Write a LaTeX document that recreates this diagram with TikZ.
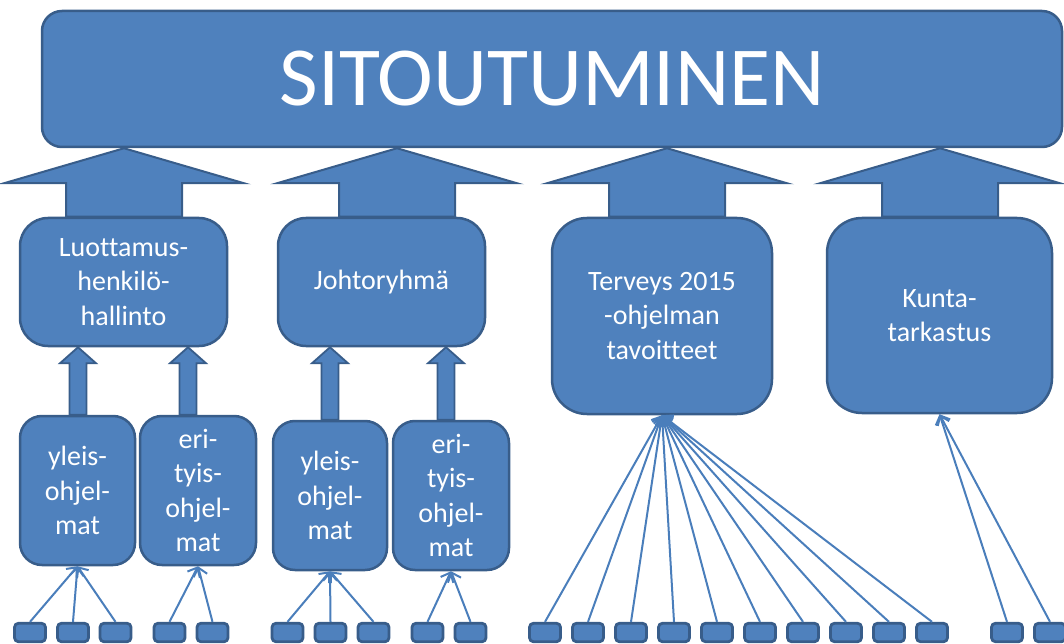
\documentclass[tikz,border=0pt]{standalone}
\usepackage{fontspec}
\setmainfont{Carlito}[Ligatures=NoCommon]
\usetikzlibrary{arrows.meta,calc}
\definecolor{boxfill}{RGB}{79,129,189}
\definecolor{boxline}{RGB}{56,93,138}
\definecolor{connc}{RGB}{74,126,187}
\newcommand{\bigarr}[3]{%
  \coordinate (bx) at (#1,0);
  \draw[barrow] let \p1=(#2.south -| bx), \p2=(#3.north -| bx) in
   (\x1,\y1) -- (\x1+120pt,\y1-35pt) -- (\x1+58pt,\y1-35pt) -- (\x1+58pt,\y2)
   -- (\x1-58pt,\y2) -- (\x1-58pt,\y1-35pt) -- (\x1-120pt,\y1-35pt) -- cycle;}
\newcommand{\smallarr}[3]{%
  \coordinate (sx) at (#1,0);
  \draw[barrow, line width=1.8pt] let \p1=(#2.south -| sx), \p2=(#3.north -| sx) in
   (\x1,\y1) -- (\x1+18pt,\y1-16pt) -- (\x1+8.5pt,\y1-16pt) -- (\x1+8.5pt,\y2)
   -- (\x1-8.5pt,\y2) -- (\x1-8.5pt,\y1-16pt) -- (\x1-18pt,\y1-16pt) -- cycle;}
\begin{document}
\begin{tikzpicture}[x=1pt,y=-1pt,
  box/.style={draw=boxline, fill=boxfill, line width=2.5pt, text=white, align=center,
    inner sep=0pt, font=\fontsize{28}{34.5}\selectfont},
  sq/.style={draw=boxline, fill=boxfill, line width=2.8pt, rounded corners=4pt,
    minimum width=31pt, minimum height=18.5pt, inner sep=0pt},
  barrow/.style={draw=boxline, fill=boxfill, line width=2pt, line join=miter},
  connl/.style={draw=connc, line width=2pt, -{Straight Barb[length=8pt,width=14pt]}}
]
\useasboundingbox (0,0) rectangle (1064,644);

\node[box, rounded corners=20pt, minimum width=1020pt, minimum height=136pt,
  font=\fontsize{84}{100}\selectfont] (top) at (552,79) {SITOUTUMINEN};

\node[box, rounded corners=28pt, minimum width=207pt, minimum height=128pt] (luo) at (123.5,282) {Luottamus-\\henkilö-\\hallinto};
\node[box, rounded corners=28pt, minimum width=207pt, minimum height=128pt] (joh) at (381.5,282) {Johtoryhmä};
\node[box, rounded corners=35pt, minimum width=220pt, minimum height=196pt] (ter) at (662,316) {Terveys 2015\\-ohjelman\\tavoitteet};
\node[box, rounded corners=35pt, minimum width=225pt, minimum height=195pt] (kun) at (939.5,315.5) {Kunta-\\tarkastus};

\node[box, rounded corners=22pt, minimum width=115pt, minimum height=149pt] (y1) at (77.5,490.5) {yleis-\\ohjel-\\mat};
\node[box, rounded corners=22pt, minimum width=116pt, minimum height=149pt] (e1) at (198,490.5) {eri-\\tyis-\\ohjel-\\mat};
\node[box, rounded corners=22pt, minimum width=114pt, minimum height=149pt] (y2) at (330,495.5) {yleis-\\ohjel-\\mat};
\node[box, rounded corners=22pt, minimum width=116pt, minimum height=149pt] (e2) at (451,495.5) {eri-\\tyis-\\ohjel-\\mat};

\foreach \x [count=\i] in {30,73,115.5,169.5,212.5,287.5,330.5,373.5,427.5,470.5,545,588,631,674,717,760,803,846,889,932,1007,1050}
  \node[sq] (s\i) at (\x,632.5) {};

\bigarr{124}{top}{luo}
\bigarr{397}{top}{joh}
\bigarr{667}{top}{ter}
\bigarr{940}{top}{kun}

\smallarr{78}{luo}{y1}
\smallarr{188}{luo}{e1}
\smallarr{330}{joh}{y2}
\smallarr{446}{joh}{e2}

\foreach \i in {1,2,3} \draw[connl] (s\i.north) -- (y1.south);
\foreach \i in {4,5} \draw[connl] (s\i.north) -- (e1.south);
\foreach \i in {6,7,8} \draw[connl] (s\i.north) -- (y2.south);
\foreach \i in {9,10} \draw[connl] (s\i.north) -- (e2.south);
\foreach \i in {11,...,20} \draw[connl] (s\i.north) -- (ter.south);
\foreach \i in {21,22} \draw[connl] (s\i.north) -- (kun.south);
\end{tikzpicture}
\end{document}
